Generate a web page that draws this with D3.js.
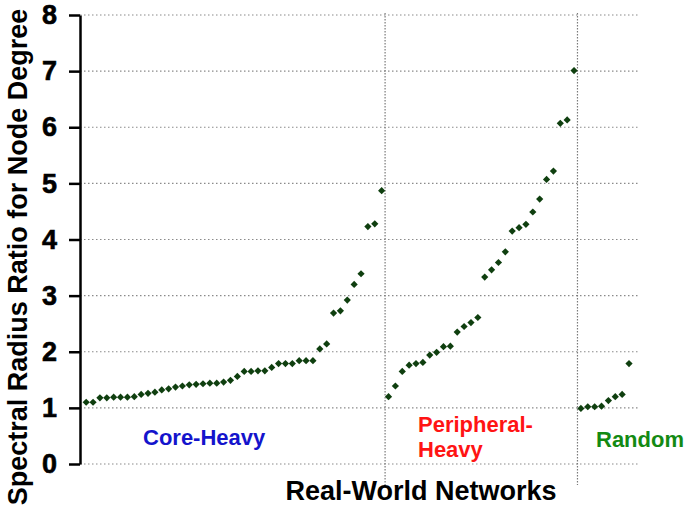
<!DOCTYPE html>
<html>
<head>
    <meta charset="UTF-8">
    <title></title>
    <style>
        body { margin: 0; background: #fff; }
        text { font-family: "Liberation Sans", Arial, sans-serif; font-weight: bold; }
    </style>
</head>
<body>
<svg width="685" height="512"></svg>
<script src="https://cdn.jsdelivr.net/npm/d3@7/dist/d3.min.js"></script>
<script>
    // values, one array per group of networks
    var coreHeavy = [1.10, 1.10, 1.18, 1.18, 1.19, 1.19, 1.19, 1.20, 1.24, 1.26,
        1.28, 1.32, 1.34, 1.37, 1.39, 1.41, 1.42, 1.43, 1.44, 1.44,
        1.46, 1.49, 1.56, 1.65, 1.65, 1.66, 1.66, 1.72, 1.79, 1.79,
        1.79, 1.84, 1.84, 1.84, 2.05, 2.14, 2.69, 2.73, 2.92, 3.20,
        3.39, 4.23, 4.28, 4.87];
    var peripheralHeavy = [1.20, 1.39, 1.65, 1.76, 1.79, 1.81, 1.94, 1.99, 2.09, 2.10,
        2.35, 2.45, 2.52, 2.61, 3.33, 3.46, 3.59, 3.78, 4.15, 4.21,
        4.27, 4.49, 4.72, 5.07, 5.22, 6.07, 6.13, 7.01];
    var random = [0.99, 1.02, 1.02, 1.03, 1.13, 1.20, 1.24, 1.79];
    var groupNames = ["Core-Heavy", "Peripheral-Heavy", "Random"];
    var yTicks = [0, 1, 2, 3, 4, 5, 6, 7, 8];

    var svg = d3.select("svg"),
        MARGINS = {top: 15, right: 45, bottom: 48, left: 80},
        WIDTH = +svg.attr("width"),
        HEIGHT = +svg.attr("height");

    var groups = [coreHeavy, peripheralHeavy, random];
    var data = [], breaks = [], n = 0;
    groups.forEach(function (g, gi) {
        g.forEach(function (v) { data.push({i: n++, v: v, g: gi}); });
        if (gi < groups.length - 1) breaks.push(n - 0.5);
    });

    var xScale = d3.scaleLinear()
        .domain([-0.9, n + 0.6])
        .range([MARGINS.left, WIDTH - MARGINS.right]);
    var yScale = d3.scaleLinear()
        .domain([0, 8])
        .range([HEIGHT - MARGINS.bottom, MARGINS.top]);

    // dotted gridlines
    svg.append("g").selectAll("line")
        .data(yTicks)
        .enter().append("line")
        .attr("x1", xScale.range()[0])
        .attr("x2", xScale.range()[1])
        .attr("y1", function (d) { return yScale(d); })
        .attr("y2", function (d) { return yScale(d); })
        .attr("stroke", "#8a8a8a")
        .attr("stroke-width", 1.2)
        .attr("stroke-dasharray", "1.5,2.5");

    // group separators
    svg.append("g").selectAll("line")
        .data(breaks)
        .enter().append("line")
        .attr("x1", function (d) { return xScale(d); })
        .attr("x2", function (d) { return xScale(d); })
        .attr("y1", MARGINS.top - 2)
        .attr("y2", HEIGHT - 27)
        .attr("stroke", "#7a7a7a")
        .attr("stroke-width", 1.2)
        .attr("stroke-dasharray", "1.5,1.5");

    var yAxis = d3.axisLeft(yScale)
        .tickValues(yTicks)
        .tickFormat(d3.format("d"))
        .tickSize(11)
        .tickSizeOuter(0)
        .tickPadding(12);
    var ya = svg.append("g")
        .attr("transform", "translate(" + MARGINS.left + ",0)")
        .call(yAxis);
    ya.select(".domain").attr("stroke", "#000").attr("stroke-width", 2.5);
    ya.selectAll(".tick line").attr("stroke", "#000").attr("stroke-width", 2.5);
    ya.selectAll(".tick text")
        .attr("fill", "#000")
        .attr("stroke", "#000")
        .attr("stroke-width", 0.6)
        .style("font-size", "27px")
        .style("font-family", "'Liberation Sans', Arial, sans-serif")
        .style("font-weight", "bold");

    // diamonds
    var diamond = d3.symbol().type(d3.symbolSquare).size(26);
    svg.append("g").selectAll("path")
        .data(data)
        .enter().append("path")
        .attr("d", diamond)
        .attr("transform", function (d) {
            return "translate(" + xScale(d.i) + "," + yScale(d.v) + ") rotate(45)";
        })
        .attr("fill", "#0f3f0f");

    // axis titles
    svg.append("text")
        .attr("transform", "translate(27," + (HEIGHT / 2 + 1) + ") rotate(-90)")
        .attr("text-anchor", "middle")
        .style("font-size", "27px")
        .text("Spectral Radius Ratio for Node Degree");
    svg.append("text")
        .attr("x", 421)
        .attr("y", 500)
        .attr("text-anchor", "middle")
        .style("font-size", "27px")
        .text("Real-World Networks");

    // group labels
    svg.append("text")
        .attr("x", 143).attr("y", 445)
        .attr("fill", "#1414cc")
        .style("font-size", "22px")
        .text(groupNames[0]);
    var ph = svg.append("text")
        .attr("x", 418).attr("y", 432)
        .attr("fill", "#ff1414")
        .style("font-size", "22px");
    ph.append("tspan").attr("x", 418).text("Peripheral-");
    ph.append("tspan").attr("x", 418).attr("dy", 25).text("Heavy");
    svg.append("text")
        .attr("x", 596).attr("y", 447)
        .attr("fill", "#138a13")
        .style("font-size", "22px")
        .text(groupNames[2]);
</script>
</body>
</html>
